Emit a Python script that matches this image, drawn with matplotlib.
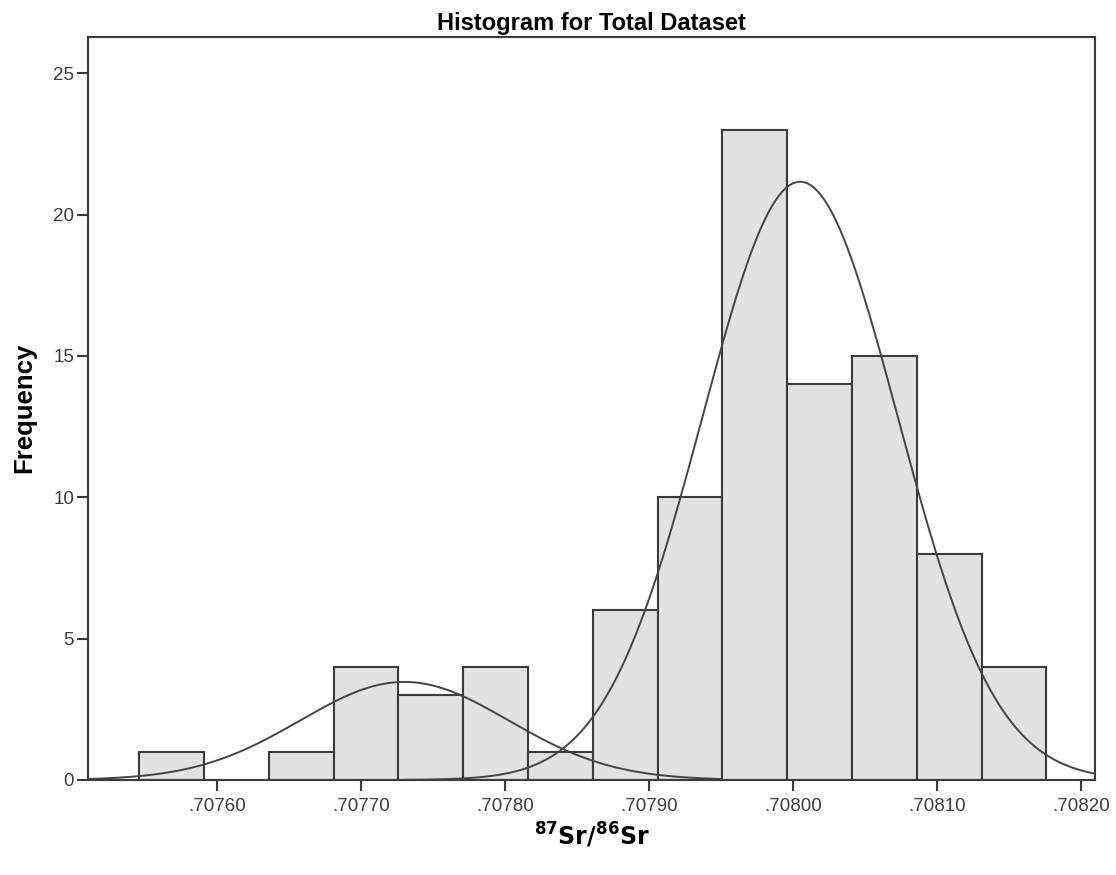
import numpy as np
import matplotlib.pyplot as plt

# Histogram of 87Sr/86Sr ratios (SPSS style), counts
bin_start = 0.7075458
bin_width = 0.00004502
counts = [1, 0, 1, 4, 3, 4, 1, 6, 10, 23, 14, 15, 8, 4]

# two fitted normal curves (mean, sd, n, drawn range)
fit1 = dict(mean=0.70773, sd=0.0000725, n=14, lo=0.7075102, hi=0.7079493)
fit2 = dict(mean=0.708005, sd=0.0000679, n=80, lo=0.7077300, hi=0.7082099)

xticks = [0.70760, 0.70770, 0.70780, 0.70790, 0.70800, 0.70810, 0.70820]
xtick_labels = ['.70760', '.70770', '.70780', '.70790', '.70800', '.70810', '.70820']
yticks = [0, 5, 10, 15, 20, 25]

plt.rcParams['font.family'] = ['Liberation Sans', 'DejaVu Sans']

fig = plt.figure(figsize=(11.16, 8.75), dpi=100)
ax = fig.add_axes([0.0789, 0.1086, 0.9023, 0.8494])

edges = bin_start + bin_width * np.arange(len(counts))
ax.bar(edges, counts, width=bin_width, align='edge', color='#e2e2e2',
       edgecolor='#3a3a3a', linewidth=1.5, zorder=2)

def normal_curve(f):
    x = np.linspace(f['lo'], f['hi'], 400)
    y = f['n'] * bin_width / (f['sd'] * np.sqrt(2 * np.pi)) * np.exp(-0.5 * ((x - f['mean']) / f['sd'])**2)
    return x, y

for f in (fit1, fit2):
    x, y = normal_curve(f)
    ax.plot(x, y, color='#444444', lw=1.4, zorder=3)

ax.set_xlim(0.7075102, 0.7082099)
ax.set_ylim(0, 26.29)
ax.set_xticks(xticks)
ax.set_xticklabels(xtick_labels)
ax.set_yticks(yticks)
ax.tick_params(axis='both', labelsize=13.5, labelcolor='#3c3c3c', color='#3a3a3a',
               length=8, width=1.5)
ax.tick_params(axis='x', pad=5)
ax.tick_params(axis='y', pad=2)
for s in ax.spines.values():
    s.set_color('#3a3a3a')
    s.set_linewidth(1.5)

ax.set_title('Histogram for Total Dataset', fontsize=17, fontweight='bold', pad=5)
ax.set_ylabel('Frequency', fontsize=18.5, fontweight='bold', labelpad=12)

plt.rcParams['mathtext.fontset'] = 'custom'
plt.rcParams['mathtext.bf'] = 'Open Sans:bold'
plt.rcParams['mathtext.rm'] = 'Open Sans:bold'
ax.set_xlabel(r'$\mathbf{^{87}Sr/^{86}Sr}$', fontsize=17, labelpad=4)

fig.savefig('out.png', dpi=100)
